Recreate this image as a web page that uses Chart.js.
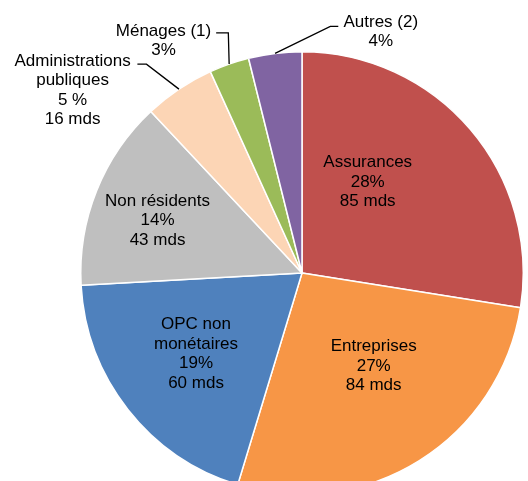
<!DOCTYPE html>
<html>
<head>
<meta charset="utf-8">
<script src="https://cdn.jsdelivr.net/npm/chart.js@4"></script>
<style>
  html, body { margin: 0; padding: 0; background: #fff; overflow: hidden; }
  #wrap { position: relative; width: 528px; height: 500px; }
</style>
</head>
<body>
<div id="wrap"><canvas id="pie"></canvas></div>
<script>
// holders of the securities, clockwise from 12 o'clock
const sectors = ['Assurances', 'Entreprises', 'OPC non\nmonétaires', 'Non résidents', 'Administrations\npubliques', 'Ménages (1)', 'Autres (2)'];
const amounts = [85, 84, 60, 43, 16, 9, 12];          // mds (last two estimated from the angles)
const shares = ['28%', '27%', '19%', '14%', '5 %', '3%', '4%'];
const amountLabels = ['85 mds', '84 mds', '60 mds', '43 mds', '16 mds', '', ''];
const colors = ['#C0504D', '#F79646', '#4F81BD', '#BFBFBF', '#FCD5B5', '#9BBB59', '#8064A2'];

// label centre relative to the pie centre, in radii; leader = [textEnd, elbow] relative to centre in radii
const labelLayout = [
    { x: 0.297, y: -0.410 },
    { x: 0.324, y: 0.420 },
    { x: -0.479, y: 0.365 },
    { x: -0.653, y: -0.238 },
    { x: -1.037, y: -0.825, leader: [[-0.744, -0.944], [-0.703, -0.944]] },
    { x: -0.626, y: -1.050, leader: [[-0.388, -1.085], [-0.333, -1.085]] },
    { x: 0.356, y: -1.090, leader: [[0.164, -1.115], [0.128, -1.115]] }
];

const FONT = '17px "Liberation Sans", Arial, sans-serif';
const LINE_H = 19.5;

const labelPlugin = {
    id: 'sliceLabels',
    afterDatasetsDraw(chart) {
        const ctx = chart.ctx;
        const meta = chart.getDatasetMeta(0);
        ctx.save();
        ctx.font = FONT;
        ctx.fillStyle = '#000';
        ctx.textAlign = 'center';
        ctx.textBaseline = 'middle';
        meta.data.forEach((arc, i) => {
            const { x, y, outerRadius: r, startAngle, endAngle } = arc.getProps(['x', 'y', 'outerRadius', 'startAngle', 'endAngle'], true);
            const lay = labelLayout[i];
            const lines = sectors[i].split('\n').concat([shares[i]]);
            if (amountLabels[i]) lines.push(amountLabels[i]);
            const cx = x + lay.x * r;
            const cy = y + lay.y * r;
            const top = cy - (lines.length - 1) * LINE_H / 2;
            lines.forEach((t, k) => ctx.fillText(t, cx, top + k * LINE_H));

            if (lay.leader) {
                const mid = (startAngle + endAngle) / 2;
                ctx.beginPath();
                ctx.strokeStyle = '#000';
                ctx.lineWidth = 1.3;
                ctx.moveTo(x + lay.leader[0][0] * r, y + lay.leader[0][1] * r);
                ctx.lineTo(x + lay.leader[1][0] * r, y + lay.leader[1][1] * r);
                ctx.lineTo(x + Math.cos(mid) * r, y + Math.sin(mid) * r);
                ctx.stroke();
            }
        });
        ctx.restore();
    }
};

new Chart(document.getElementById('pie').getContext('2d'), {
    type: 'pie',
    data: {
        labels: sectors,
        datasets: [{
            data: amounts,
            backgroundColor: colors,
            borderColor: '#ffffff',
            borderWidth: 1.5
        }]
    },
    options: {
        responsive: true,
        maintainAspectRatio: false,
        animation: false,
        layout: { padding: { left: 80, top: 51, right: 4, bottom: 5 } },
        plugins: {
            legend: { display: false },
            tooltip: { enabled: false }
        }
    },
    plugins: [labelPlugin]
});
</script>
</body>
</html>
